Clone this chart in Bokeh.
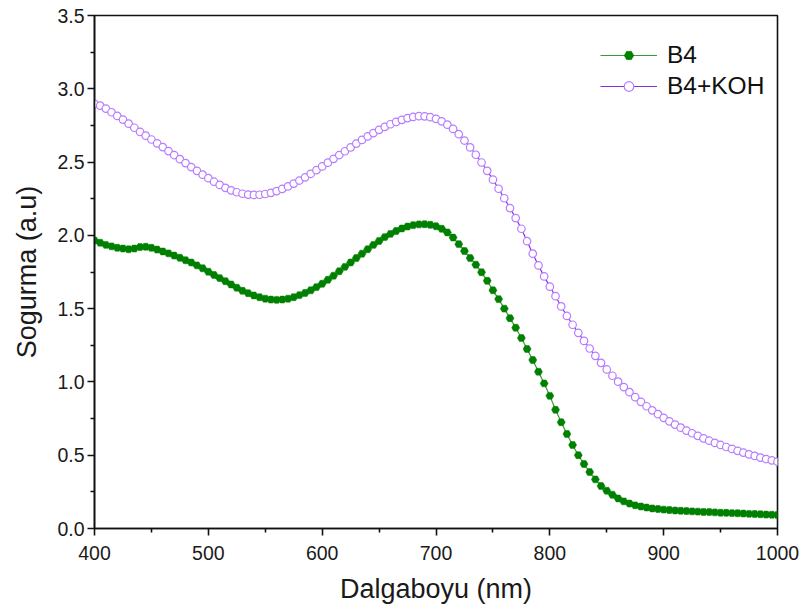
from bokeh.plotting import figure
from bokeh.models import Range1d, FixedTicker, CustomJSTickFormatter
from bokeh.embed import file_html
from bokeh.resources import INLINE

wavelength = list(range(400, 1001, 5))

b4 = [
    1.965, 1.95, 1.935, 1.925, 1.915, 1.91, 1.905, 1.91, 1.92, 1.922,
    1.915, 1.903, 1.89, 1.877, 1.862, 1.847, 1.83, 1.815, 1.795, 1.775,
    1.752, 1.73, 1.708, 1.687, 1.665, 1.643, 1.622, 1.605, 1.59, 1.578,
    1.568, 1.562, 1.56, 1.562, 1.568, 1.578, 1.592, 1.607, 1.625, 1.647,
    1.67, 1.697, 1.725, 1.755, 1.785, 1.815, 1.845, 1.875, 1.905, 1.935,
    1.962, 1.988, 2.01, 2.03, 2.047, 2.06, 2.07, 2.075, 2.076, 2.072,
    2.062, 2.045, 2.02, 1.985, 1.94, 1.893, 1.845, 1.8, 1.748, 1.69,
    1.625, 1.565, 1.5, 1.435, 1.37, 1.3, 1.225, 1.15, 1.07, 0.99,
    0.905, 0.81, 0.725, 0.645, 0.57, 0.5, 0.44, 0.385, 0.335, 0.29,
    0.258, 0.23, 0.205, 0.185, 0.17, 0.158, 0.15, 0.143, 0.137, 0.133,
    0.129, 0.126, 0.123, 0.121, 0.119, 0.117, 0.115, 0.113, 0.112, 0.11,
    0.108, 0.107, 0.105, 0.104, 0.102, 0.1, 0.099, 0.097, 0.095, 0.094,
    0.092,
]

b4_koh = [
    2.897, 2.885, 2.865, 2.84, 2.815, 2.79, 2.762, 2.734, 2.706, 2.68,
    2.654, 2.628, 2.602, 2.575, 2.548, 2.52, 2.493, 2.466, 2.44, 2.414,
    2.39, 2.366, 2.344, 2.324, 2.307, 2.294, 2.284, 2.278, 2.276, 2.277,
    2.282, 2.29, 2.302, 2.317, 2.334, 2.353, 2.374, 2.396, 2.42, 2.445,
    2.47, 2.496, 2.522, 2.548, 2.574, 2.6, 2.626, 2.651, 2.675, 2.698,
    2.72, 2.74, 2.758, 2.774, 2.788, 2.8, 2.808, 2.813, 2.812, 2.806,
    2.795, 2.778, 2.755, 2.726, 2.69, 2.647, 2.6, 2.55, 2.497, 2.44,
    2.38, 2.318, 2.253, 2.186, 2.118, 2.045, 1.96, 1.875, 1.795, 1.72,
    1.65, 1.585, 1.515, 1.45, 1.39, 1.335, 1.28, 1.228, 1.178, 1.13,
    1.085, 1.042, 1.002, 0.965, 0.93, 0.896, 0.864, 0.834, 0.806, 0.78,
    0.755, 0.731, 0.709, 0.688, 0.668, 0.65, 0.632, 0.615, 0.599, 0.584,
    0.57, 0.556, 0.543, 0.53, 0.518, 0.506, 0.495, 0.484, 0.474, 0.465,
    0.456,
]

x_ticks = [400, 500, 600, 700, 800, 900, 1000]
x_minor = [450, 550, 650, 750, 850, 950]
y_ticks = [0.0, 0.5, 1.0, 1.5, 2.0, 2.5, 3.0, 3.5]
y_minor = [0.25, 0.75, 1.25, 1.75, 2.25, 2.75, 3.25]

FONT = "Liberation Sans"

p = figure(width=803, height=612, output_backend="svg", toolbar_location=None,
           x_range=Range1d(400, 1000), y_range=Range1d(0, 3.5),
           min_border_left=94, min_border_right=26, min_border_top=15, min_border_bottom=84)
p.background_fill_color = "white"
p.border_fill_color = "white"
p.grid.visible = False
p.outline_line_color = "#111111"
p.outline_line_width = 1.6

p.xaxis.ticker = FixedTicker(ticks=x_ticks, minor_ticks=x_minor)
p.yaxis.ticker = FixedTicker(ticks=y_ticks, minor_ticks=y_minor)
p.yaxis.formatter = CustomJSTickFormatter(code="return tick.toFixed(1);")

for ax in (p.xaxis[0], p.yaxis[0]):
    ax.axis_line_color = "#111111"
    ax.axis_line_width = 1.6
    ax.major_tick_line_color = "#111111"
    ax.major_tick_line_width = 1.6
    ax.minor_tick_line_color = "#111111"
    ax.minor_tick_line_width = 1.6
    ax.major_tick_out = 7
    ax.major_tick_in = 0
    ax.minor_tick_out = 4
    ax.minor_tick_in = 0
    ax.major_label_text_font = FONT
    ax.major_label_text_font_size = "19.5px"
    ax.major_label_text_color = "#1a1a1a"
    ax.axis_label_text_font = FONT
    ax.axis_label_text_font_size = "27px"
    ax.axis_label_text_font_style = "normal"
    ax.axis_label_text_color = "#1a1a1a"

p.xaxis.major_label_standoff = 10
p.yaxis.major_label_standoff = 3
p.xaxis.axis_label = "Dalgaboyu (nm)"
p.yaxis.axis_label = "Sogurma (a.u)"
p.xaxis.axis_label_standoff = 11
p.yaxis.axis_label_standoff = 12

# B4
p.line(wavelength, b4, line_color="#3a9a3a", line_width=1.2, legend_label="B4")
p.scatter(wavelength, b4, marker="hex", size=8, fill_color="#008000",
          line_color="#008000", line_width=0.5, legend_label="B4")

# B4+KOH
p.line(wavelength, b4_koh, line_color="#8a2be2", line_width=1.2, legend_label="B4+KOH")
p.scatter(wavelength, b4_koh, marker="circle", size=7.5, fill_color="white",
          line_color="#b77cff", line_width=1.2, legend_label="B4+KOH")

lg = p.legend[0]
lg.location = (506, 428)
lg.border_line_color = None
lg.background_fill_alpha = 0
lg.label_text_font = FONT
lg.label_text_font_size = "24.5px"
lg.label_text_color = "#111111"
lg.glyph_width = 57
lg.glyph_height = 24
lg.label_height = 24
lg.spacing = 3
lg.label_standoff = 10
lg.padding = 4
lg.margin = 0

open("out.html", "w").write(file_html(p, INLINE))
